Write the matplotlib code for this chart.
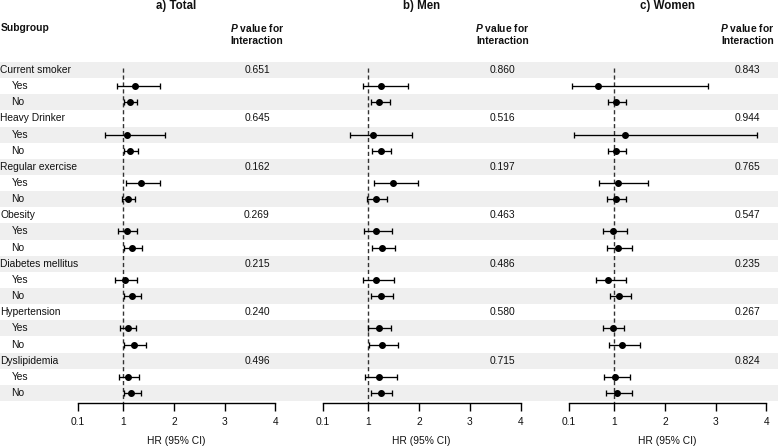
import matplotlib
matplotlib.use("Agg")
import matplotlib.pyplot as plt
import numpy as np
from matplotlib.transforms import blended_transform_factory as btf

plt.rcParams['font.family'] = ['Liberation Sans', 'DejaVu Sans']
plt.rcParams['mathtext.fontset'] = 'custom'
plt.rcParams['mathtext.it'] = 'Liberation Sans:italic:bold'
plt.rcParams['mathtext.rm'] = 'Liberation Sans:bold'
plt.rcParams['mathtext.bf'] = 'Liberation Sans:bold'

# ---------------- data ----------------
groups = ["Current smoker", "Heavy Drinker", "Regular exercise", "Obesity",
          "Diabetes mellitus", "Hypertension", "Dyslipidemia"]
levels = ["Yes", "No"]
panel_titles = ["a) Total", "b) Men", "c) Women"]
xticks = [0.1, 1, 2, 3, 4]
xticklabels = ["0.1", "1", "2", "3", "4"]
xlabel = "HR (95% CI)"

# order: for each group -> Yes, No
total_est = [1.23, 1.13, 1.07, 1.14, 1.35, 1.09, 1.07, 1.18, 1.03, 1.18, 1.09, 1.22, 1.10, 1.16]
total_lo  = [0.88, 1.01, 0.63, 1.01, 1.06, 0.97, 0.90, 1.02, 0.84, 1.02, 0.93, 1.02, 0.91, 1.01]
total_hi  = [1.72, 1.28, 1.82, 1.29, 1.72, 1.24, 1.28, 1.37, 1.28, 1.34, 1.26, 1.45, 1.31, 1.34]
total_p   = [0.651, 0.645, 0.162, 0.269, 0.215, 0.240, 0.496]

men_est = [1.25, 1.21, 1.09, 1.24, 1.48, 1.15, 1.15, 1.27, 1.15, 1.25, 1.20, 1.27, 1.20, 1.24]
men_lo  = [0.89, 1.05, 0.64, 1.07, 1.11, 0.97, 0.91, 1.07, 0.89, 1.06, 0.99, 1.01, 0.93, 1.05]
men_hi  = [1.78, 1.42, 1.86, 1.44, 1.97, 1.36, 1.46, 1.53, 1.51, 1.49, 1.45, 1.58, 1.56, 1.47]
men_p   = [0.860, 0.516, 0.197, 0.463, 0.486, 0.580, 0.715]

women_est = [0.67, 1.04, 1.21, 1.04, 1.07, 1.03, 0.98, 1.07, 0.88, 1.09, 0.97, 1.15, 1.01, 1.05]
women_lo  = [0.16, 0.88, 0.20, 0.88, 0.70, 0.86, 0.77, 0.86, 0.63, 0.91, 0.78, 0.89, 0.80, 0.83]
women_hi  = [2.85, 1.23, 3.82, 1.23, 1.66, 1.24, 1.26, 1.35, 1.23, 1.33, 1.20, 1.50, 1.30, 1.34]
women_p   = [0.843, 0.944, 0.765, 0.547, 0.235, 0.267, 0.824]

panels = [
    (total_est, total_lo, total_hi, total_p),
    (men_est, men_lo, men_hi, men_p),
    (women_est, women_lo, women_hi, women_p),
]

# ---------------- layout ----------------
W, H, DPI = 778, 447, 100
fig = plt.figure(figsize=(W / DPI, H / DPI), dpi=DPI)

row0, rh, axis_px = 70.0, 16.15, 403.0
nrows = len(groups) * 3
top_px = row0 - 0.5 * rh
ylim = ((axis_px - row0) / rh, -0.5)

def fy(px):
    return 1 - px / H

def fx(px):
    return px / W

FS = 7.4
TXT = '#111111'
STRIPE = '#EFEFEF'

# background stripes across the full width
bg = fig.add_axes([0, fy(axis_px), 1, fy(top_px) - fy(axis_px)])
bg.set_xlim(0, 1)
bg.set_ylim(*ylim)
bg.axis('off')
for i in range(0, nrows, 2):
    bg.axhspan(i - 0.5, i + 0.5, color=STRIPE, lw=0)

panel_px = [(77.7, 275.3), (322.7, 520.7), (568.7, 766.3)]
pcenters = [257.0, 502.3, 747.5]

group_rows = [3 * g for g in range(len(groups))]
level_rows = []
for g in range(len(groups)):
    level_rows += [3 * g + 1, 3 * g + 2]

for k, ((est, lo, hi, pv), (l, r), pc, title) in enumerate(
        zip(panels, panel_px, pcenters, panel_titles)):
    ax = fig.add_axes([fx(l), fy(axis_px), fx(r) - fx(l), fy(top_px) - fy(axis_px)])
    ax.patch.set_alpha(0)
    ax.set_xlim(0.1, 4)
    ax.set_ylim(*ylim)
    for s in ['top', 'left', 'right']:
        ax.spines[s].set_visible(False)
    ax.spines['bottom'].set_linewidth(1.0)
    ax.spines['bottom'].set_color('black')
    ax.set_xticks(xticks)
    ax.set_xticklabels(xticklabels)
    ax.tick_params(axis='x', length=6, width=1.0, pad=4, labelsize=FS, colors='black')
    ax.tick_params(axis='x', labelcolor=TXT)
    ax.set_yticks([])

    ax.vlines(1, -0.1, ylim[0], colors='#333333', linestyles=(0, (3, 2)), lw=1.0, zorder=1)

    est_a = np.array(est)
    lo_a = np.array(lo)
    hi_a = np.array(hi)
    ax.errorbar(est_a, level_rows, xerr=[est_a - lo_a, hi_a - est_a], fmt='o',
                color='black', ms=4, capsize=2.3, elinewidth=0.95, capthick=0.95,
                zorder=3)

    tr = btf(fig.transFigure, ax.transData)
    for g, p in enumerate(pv):
        ax.text(fx(pc), group_rows[g], f"{p:.3f}", transform=tr, ha='center',
                va='center', fontsize=FS, color=TXT)

    if k == 0:
        for g, name in enumerate(groups):
            ax.text(fx(0.5), group_rows[g], name, transform=tr, ha='left',
                    va='center', fontsize=FS, color=TXT)
        for j, rr in enumerate(level_rows):
            ax.text(fx(11.5), rr, levels[j % 2], transform=tr, ha='left',
                    va='center', fontsize=FS, color=TXT)

    xc = fx((l + r) / 2)
    fig.text(xc, fy(5.5), title, ha='center', va='center', fontsize=8.3,
             fontweight='bold', color=TXT)
    fig.text(fx(pc), fy(28), r"$P$ value for", ha='center', va='center',
             fontsize=FS, fontweight='bold', color=TXT)
    fig.text(fx(pc), fy(40.5), "Interaction", ha='center', va='center',
             fontsize=FS, fontweight='bold', color=TXT)
    fig.text(xc, fy(441.5), xlabel, ha='center', va='center', fontsize=FS, color=TXT)

fig.text(fx(0.5), fy(28), "Subgroup", ha='left', va='center', fontsize=FS,
         fontweight='bold', color=TXT)

fig.savefig("out.png", dpi=DPI)
